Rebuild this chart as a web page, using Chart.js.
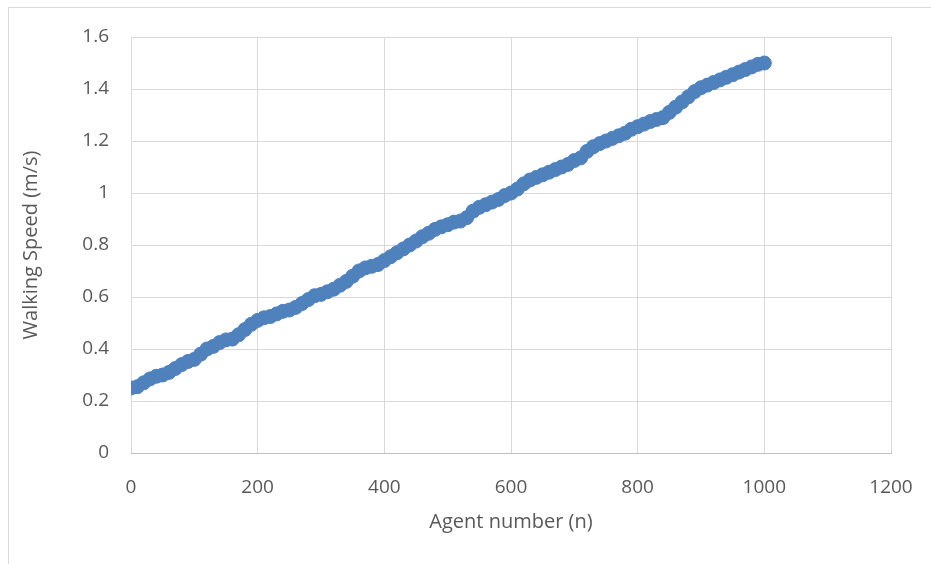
<!DOCTYPE html>
<html>
<head>
<meta charset="utf-8">
<script src="https://cdn.jsdelivr.net/npm/chart.js@4/dist/chart.umd.min.js"></script>
<style>
  html, body { margin: 0; padding: 0; background: #ffffff; }
  #wrap { position: relative; width: 931px; height: 564px; overflow: hidden; }
  #frame { position: absolute; left: 8px; top: 7px; width: 1000px; height: 1000px;
           border-left: 1px solid #d9d9d9; border-top: 1px solid #d9d9d9; box-sizing: border-box; }
  canvas { position: absolute; left: 0; top: 0; }
</style>
</head>
<body>
<div id="wrap">
  <div id="frame"></div>
  <canvas id="chart" width="931" height="564"></canvas>
</div>
<script>
// Agent numbers (every 10th agent) and their walking speeds in m/s
const agentNumbers = [
  0, 10, 20, 30, 40, 50, 60, 70, 80, 90,
  100, 110, 120, 130, 140, 150, 160, 170, 180, 190,
  200, 210, 220, 230, 240, 250, 260, 270, 280, 290,
  300, 310, 320, 330, 340, 350, 360, 370, 380, 390,
  400, 410, 420, 430, 440, 450, 460, 470, 480, 490,
  500, 510, 520, 530, 540, 550, 560, 570, 580, 590,
  600, 610, 620, 630, 640, 650, 660, 670, 680, 690,
  700, 710, 720, 730, 740, 750, 760, 770, 780, 790,
  800, 810, 820, 830, 840, 850, 860, 870, 880, 890,
  900, 910, 920, 930, 940, 950, 960, 970, 980, 990,
  1000
];
const walkingSpeeds = [
  0.250, 0.255, 0.270, 0.285, 0.295, 0.300, 0.310, 0.325, 0.340, 0.352,
  0.360, 0.380, 0.400, 0.410, 0.425, 0.435, 0.438, 0.455, 0.475, 0.495,
  0.510, 0.520, 0.525, 0.535, 0.545, 0.550, 0.560, 0.575, 0.590, 0.605,
  0.610, 0.620, 0.630, 0.645, 0.660, 0.680, 0.700, 0.712, 0.718, 0.725,
  0.740, 0.755, 0.770, 0.785, 0.800, 0.815, 0.832, 0.845, 0.860, 0.870,
  0.878, 0.888, 0.892, 0.905, 0.930, 0.945, 0.955, 0.965, 0.975, 0.990,
  1.000, 1.015, 1.035, 1.050, 1.060, 1.070, 1.080, 1.090, 1.100, 1.110,
  1.125, 1.135, 1.160, 1.178, 1.190, 1.200, 1.210, 1.220, 1.230, 1.245,
  1.255, 1.265, 1.275, 1.283, 1.290, 1.310, 1.330, 1.350, 1.370, 1.390,
  1.405, 1.415, 1.425, 1.435, 1.445, 1.455, 1.465, 1.475, 1.485, 1.495,
  1.500
];

const xTitle = 'Agent number (n)';
const yTitle = 'Walking Speed (m/s)';

const points = agentNumbers.map((n, i) => ({ x: n, y: walkingSpeeds[i] }));

const fontFamily = '"Open Sans", "Liberation Sans", sans-serif';
const textColor = '#595959';
const gridColor = '#d9d9d9';

new Chart(document.getElementById('chart'), {
  type: 'scatter',
  data: {
    datasets: [{
      data: points,
      backgroundColor: '#4f81bd',
      borderColor: '#4f81bd',
      borderWidth: 1,
      pointRadius: 7,
      pointHoverRadius: 7
    }]
  },
  options: {
    responsive: false,
    animation: false,
    layout: { padding: { left: 15, top: 37, right: 40, bottom: 26 } },
    plugins: { legend: { display: false }, tooltip: { enabled: false } },
    scales: {
      x: {
        type: 'linear',
        min: 0,
        max: 1200,
        ticks: { stepSize: 200, color: textColor, font: { family: fontFamily, size: 19 }, padding: 23,
                 callback: (v) => String(v) },
        grid: { color: gridColor, lineWidth: 1, drawTicks: false },
        border: { color: '#bfbfbf', width: 1 },
        title: { display: true, text: xTitle, color: textColor, font: { family: fontFamily, size: 20 }, padding: { top: 8 } },
        afterFit: (s) => { s.height = 85; s.paddingLeft = 0; s.paddingRight = 0; }
      },
      y: {
        min: 0,
        max: 1.6,
        ticks: { stepSize: 0.2, color: textColor, font: { family: fontFamily, size: 19 }, padding: 22,
                 callback: (v) => String(Math.round(v * 10) / 10) },
        grid: { color: gridColor, lineWidth: 1, drawTicks: false },
        border: { display: false },
        title: { display: true, text: yTitle, color: textColor, font: { family: fontFamily, size: 20 }, padding: { bottom: 4 } },
        afterFit: (s) => { s.width = 116; }
      }
    }
  }
});
</script>
</body>
</html>
